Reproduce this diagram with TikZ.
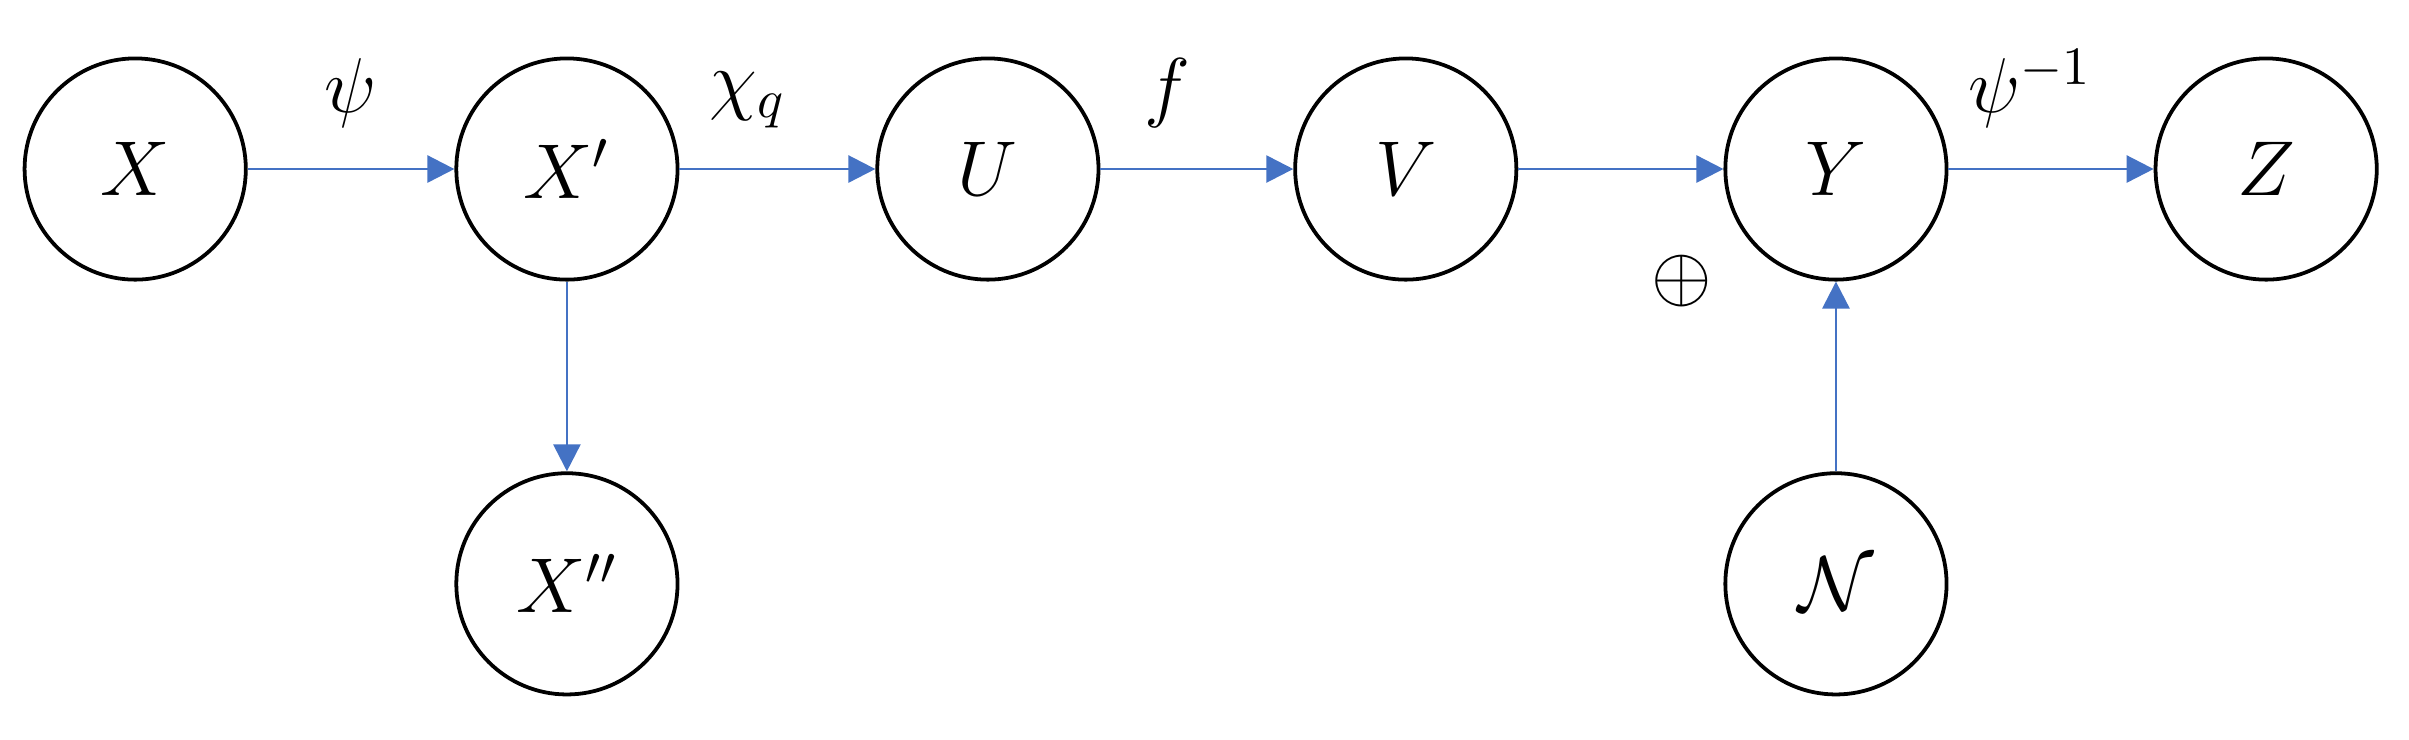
\documentclass[tikz,border=0pt]{standalone}
\usepackage{amsmath}
\usetikzlibrary{positioning,arrows.meta}
\definecolor{linkblue}{RGB}{68,114,196}
\begin{document}
\begin{tikzpicture}[
        state/.style={
            % The shape
            circle,
            minimum size = 1.44cm,
            % The border
            line width = 0.7pt,
            draw = black,
            % Font
            font = \Large
        },
        link/.style={
            % The line
            ->,
            >={Triangle[length=5pt,width=5pt]},
            draw = linkblue,
            line width = 0.5pt
        },
        lbl/.style={
            % Font
            font = \Large
        },
    ]
        \useasboundingbox (0,0) rectangle (15.68,-4.81);

        \node (x) [state] at (0.88,-1.10) {$X$};
        \node (xp) [state] at (3.69,-1.10) {$X'$};
        \node (u) [state] at (6.43,-1.10) {$U$};
        \node (v) [state] at (9.15,-1.10) {$V$};
        \node (y) [state] at (11.95,-1.10) {$Y$};
        \node (z) [state] at (14.75,-1.10) {$Z$};
        \node (xpp) [state] at (3.69,-3.80) {$X''$};
        \node (noise) [state] at (11.95,-3.80) {$\mathcal{N}$};

        \path (x) edge[link] node[lbl,pos=0.5,above=4pt] {$\psi$} (xp);
        \path (xp) edge[link] node[lbl,pos=0.35,above=4pt] {$\chi_q$} (u);
        \path (u) edge[link] node[lbl,pos=0.35,above=4pt] {$f$} (v);
        \path (v) edge[link] (y);
        \path (y) edge[link] node[lbl,pos=0.4,above=4pt] {$\psi^{-1}$} (z);
        \path (xp) edge[link] (xpp);
        \path (noise) edge[link] (y);

        \node (oplus) [lbl,left=0.68cm of y.south] {$\oplus$};
    \end{tikzpicture}
\end{document}
